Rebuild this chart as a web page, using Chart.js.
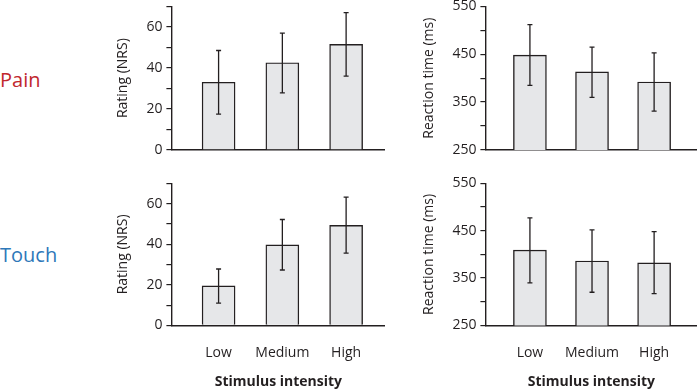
<!DOCTYPE html>
<html>
<head>
<meta charset="utf-8">
<script src="https://cdn.jsdelivr.net/npm/chart.js@4"></script>
<style>
    html, body { margin: 0; padding: 0; background: #fff; overflow: hidden; }
    body { width: 697px; height: 392px; position: relative; font-family: "Open Sans", sans-serif; }
    .panel { position: absolute; }
    .rowLabel { position: absolute; left: 0; font-size: 20px; line-height: 24px; }
</style>
</head>
<body>

<div class="rowLabel" style="top:68px; color:#c1272d;">Pain</div>
<div class="rowLabel" style="top:243px; color:#2e78b9;">Touch</div>

<div class="panel" style="left:110.6px; top:-5.9px; width:274.4px; height:168.3px;"><canvas id="painRating"></canvas></div>
<div class="panel" style="left:416.6px; top:-5.9px; width:280.4px; height:168.3px;"><canvas id="painRt"></canvas></div>
<div class="panel" style="left:110.6px; top:170.9px; width:274.4px; height:219.5px;"><canvas id="touchRating"></canvas></div>
<div class="panel" style="left:416.6px; top:170.9px; width:280.4px; height:219.5px;"><canvas id="touchRt"></canvas></div>

<script>
// categories
const categories = ['Low', 'Medium', 'High'];

// Pain - rating (NRS)
const painRatingMean = [33, 42.5, 51.5];
const painRatingLow  = [17.5, 27.8, 36];
const painRatingHigh = [48.5, 57, 67];

// Pain - reaction time (ms)
const painRtMean = [448, 413, 392];
const painRtLow  = [385, 360, 331];
const painRtHigh = [512, 465, 453];

// Touch - rating (NRS)
const touchRatingMean = [19.5, 39.7, 49.3];
const touchRatingLow  = [11, 27.3, 35.6];
const touchRatingHigh = [27.8, 52.2, 63.2];

// Touch - reaction time (ms)
const touchRtMean = [409, 386, 382];
const touchRtLow  = [340, 320, 317];
const touchRtHigh = [477, 452, 448];

// axis settings
const ratingTicks = { min: 0, max: 70, step: 10, labelEvery: 20 };
const rtTicks = { min: 250, max: 550, step: 50, labelEvery: 100 };

const ink = '#231f20';
const fontFamily = '"Open Sans", sans-serif';

// draws the error bars on top of the bars
const errorBars = {
    id: 'errorBars',
    afterDatasetsDraw(chart) {
        const ds = chart.data.datasets[0];
        const meta = chart.getDatasetMeta(0);
        const yScale = chart.scales.y;
        const ctx = chart.ctx;
        ctx.save();
        ctx.strokeStyle = ink;
        ctx.lineWidth = 1.3;
        meta.data.forEach((bar, i) => {
            const top = yScale.getPixelForValue(ds.errHigh[i]);
            const bottom = yScale.getPixelForValue(ds.errLow[i]);
            ctx.beginPath();
            ctx.moveTo(bar.x, top);
            ctx.lineTo(bar.x, bottom);
            ctx.moveTo(bar.x - 2.5, top);
            ctx.lineTo(bar.x + 2.5, top);
            ctx.moveTo(bar.x - 2.5, bottom);
            ctx.lineTo(bar.x + 2.5, bottom);
            ctx.stroke();
        });
        ctx.restore();
    }
};

function makeChart(id, mean, low, high, yTicks, yTitle, xRange, yWidth, bottomRow) {
    const ctx = document.getElementById(id).getContext('2d');

    const config = {
        type: 'bar',
        data: {
            datasets: [{
                data: mean.map((v, i) => ({ x: i, y: v })),
                errLow: low,
                errHigh: high,
                backgroundColor: '#e6e7e9',
                borderColor: ink,
                borderWidth: 1.4,
                borderSkipped: 'bottom',
                barThickness: 33,
            }]
        },
        options: {
            responsive: true,
            maintainAspectRatio: false,
            animation: false,
            layout: { padding: 0 },
            plugins: {
                legend: { display: false },
                tooltip: { enabled: false },
            },
            scales: {
                x: {
                    type: 'linear',
                    offset: false,
                    min: xRange[0],
                    max: xRange[1],
                    afterBuildTicks: (scale) => {
                        scale.ticks = categories.map((c, i) => ({ value: i }));
                    },
                    grid: { display: false, drawTicks: false, offset: false },
                    border: { display: true, color: ink, width: 1.4 },
                    ticks: {
                        display: bottomRow,
                        padding: 19,
                        maxRotation: 0,
                        minRotation: 0,
                        autoSkip: false,
                        color: ink,
                        font: { family: fontFamily, size: 14 },
                        callback: (v) => categories[v],
                    },
                    title: {
                        display: bottomRow,
                        text: 'Stimulus intensity',
                        color: ink,
                        font: { family: fontFamily, size: 14, weight: 'bold' },
                        padding: { top: -6.5, bottom: 0 },
                    },
                },
                y: {
                    min: yTicks.min,
                    max: yTicks.max,
                    afterFit: (scale) => { scale.width = yWidth; },
                    grid: { drawOnChartArea: false, drawTicks: true, tickLength: 5, color: ink, lineWidth: 1.2 },
                    border: { display: true, color: ink, width: 1.4 },
                    ticks: {
                        stepSize: yTicks.step,
                        padding: 4,
                        color: ink,
                        font: { family: fontFamily, size: 14 },
                        callback: (v) => ((v - yTicks.min) % yTicks.labelEvery === 0 ? String(v) : ''),
                    },
                    title: {
                        display: true,
                        text: yTitle,
                        color: ink,
                        font: { family: fontFamily, size: 14 },
                        padding: { top: 4, bottom: 4 },
                    },
                },
            },
        },
        plugins: [errorBars],
    };

    return new Chart(ctx, config);
}

const leftRange = [-0.74, 2.616];
const rightRange = [-0.717, 2.697];

makeChart('painRating', painRatingMean, painRatingLow, painRatingHigh, ratingTicks, 'Rating (NRS)', leftRange, 60.4, false);
makeChart('painRt', painRtMean, painRtLow, painRtHigh, rtTicks, 'Reaction time (ms)', rightRange, 68.4, false);
makeChart('touchRating', touchRatingMean, touchRatingLow, touchRatingHigh, ratingTicks, 'Rating (NRS)', leftRange, 60.4, true);
makeChart('touchRt', touchRtMean, touchRtLow, touchRtHigh, rtTicks, 'Reaction time (ms)', rightRange, 68.4, true);
</script>
</body>
</html>
